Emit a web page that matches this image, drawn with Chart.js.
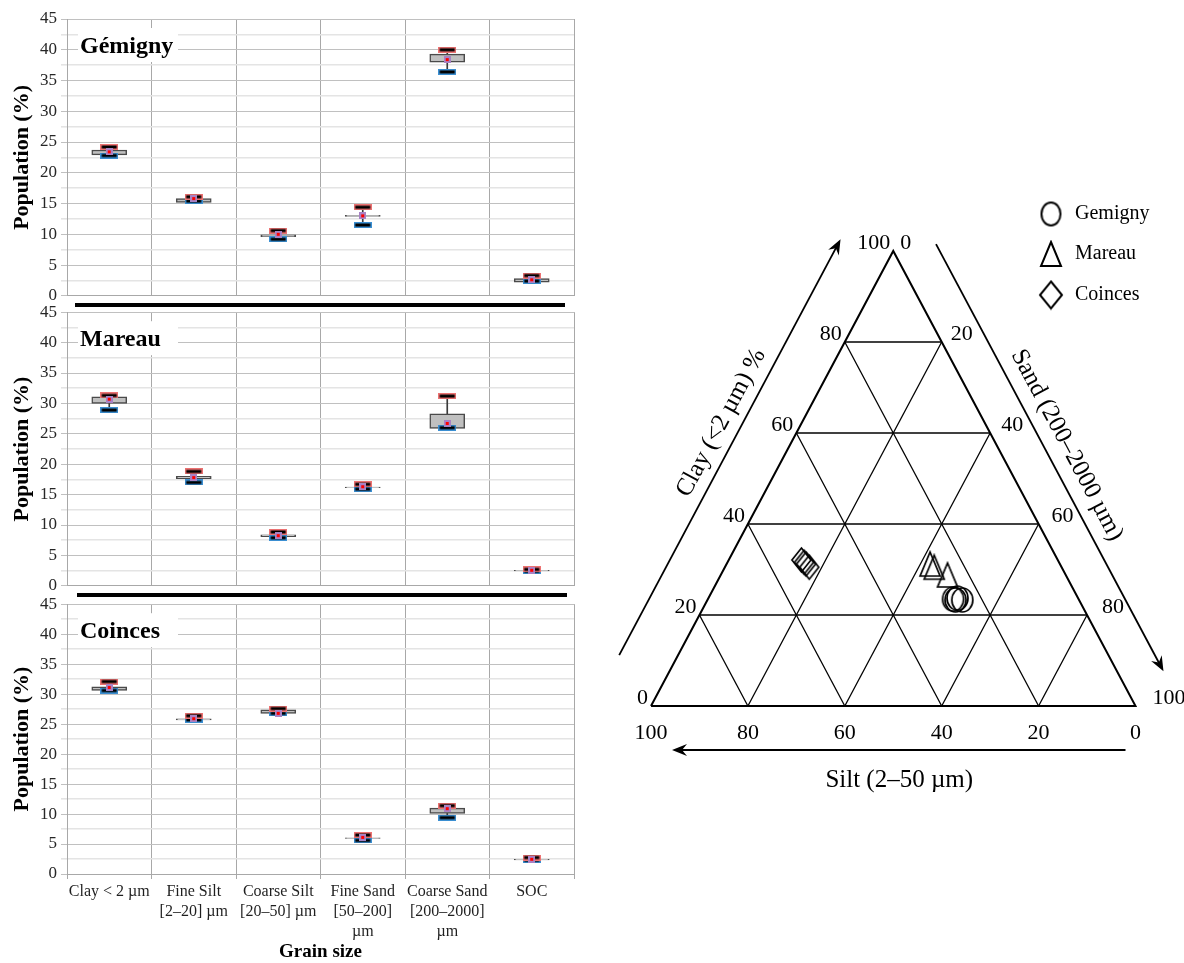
<!DOCTYPE html>
<html><head><meta charset="utf-8">
<script src="https://cdn.jsdelivr.net/npm/chart.js@4.4.0/dist/chart.umd.min.js"></script>
<style>
html,body{margin:0;padding:0;background:#fff;}
#wrap{position:relative;width:1184px;height:963px;overflow:hidden;background:#fff;}
canvas{position:absolute;}
.sep{position:absolute;height:4px;background:#000;z-index:5;}
</style></head><body>
<div id="wrap">
<canvas id="p1" style="left:0;top:0" width="590" height="310"></canvas>
<canvas id="p2" style="left:0;top:298px" width="590" height="302"></canvas>
<canvas id="p3" style="left:0;top:590px" width="590" height="373"></canvas>
<canvas id="tern" style="left:590px;top:0" width="594" height="963"></canvas>
<div class="sep" style="left:75px;top:303px;width:490px"></div>
<div class="sep" style="left:77px;top:593px;width:490px"></div>
</div>
<script>
// ---------- data ----------
const categories = [['Clay < 2 µm'], ['Fine Silt', '[2–20] µm'], ['Coarse Silt', '[20–50] µm'], ['Fine Sand', '[50–200]', 'µm'], ['Coarse Sand', '[200–2000]', 'µm'], ['SOC']];
const siteNames = ['Gémigny', 'Mareau', 'Coinces'];

const gemMin  = [22.8, 15.4, 9.2, 11.5, 36.4, 2.4];
const gemQ1   = [22.9, 15.2, 9.6, 12.9, 38.0, 2.2];
const gemQ3   = [23.7, 15.8, 9.9, 13.1, 39.3, 2.8];
const gemMax  = [24.2, 16.1, 10.6, 14.4, 40.0, 3.3];
const gemMean = [23.4, 15.8, 10.0, 13.0, 38.4, 2.6];

const marMin  = [28.9, 17.0, 7.9, 15.9, 26.0, 2.4];
const marQ1   = [30.0, 17.6, 8.1, 16.15, 25.9, 2.45];
const marQ3   = [31.1, 18.0, 8.4, 16.25, 28.3, 2.55];
const marMax  = [31.3, 18.8, 8.85, 16.7, 31.2, 2.7];
const marMean = [30.7, 17.8, 8.25, 16.3, 26.7, 2.55];

const coiMin  = [30.6, 25.7, 26.8, 5.6, 9.4, 2.3];
const coiQ1   = [30.6, 25.7, 26.8, 5.95, 10.1, 2.35];
const coiQ3   = [31.2, 25.9, 27.4, 6.05, 11.0, 2.45];
const coiMax  = [32.1, 26.4, 27.6, 6.5, 11.4, 2.75];
const coiMean = [31.1, 25.9, 26.8, 6.1, 10.9, 2.45];

// ternary samples (clay %, sand %; silt = 100 - clay - sand)
const ternTicks = [0, 20, 40, 60, 80, 100];
const ternGrid = [20, 40, 60, 80];
const gemClay = [23.5, 23.3, 23.7, 23.3];
const gemSand = [50.6, 51.2, 51.4, 52.6];
const marClay = [31.2, 30.5, 28.8];
const marSand = [42.0, 43.2, 46.8];
const coiClay = [32.1, 31.6, 31.2, 30.5];
const coiSand = [15.0, 15.8, 16.4, 17.4];

// ---------- helpers ----------
const SERIF = '"Liberation Serif", "Times New Roman", serif';
function capImg(color) {
  const c = document.createElement('canvas'); c.width = 18; c.height = 6;
  const g = c.getContext('2d');
  g.fillStyle = color; g.fillRect(0, 0, 18, 6);
  g.fillStyle = '#000'; g.fillRect(1.5, 1.5, 15, 3);
  return c;
}
function meanImg() {
  const c = document.createElement('canvas'); c.width = 7; c.height = 7;
  const g = c.getContext('2d');
  g.fillStyle = '#a882c4'; g.fillRect(0, 0, 7, 7);
  g.fillStyle = '#ff0000'; g.fillRect(2, 2, 3, 3);
  return c;
}
function markerImg(kind, w, h, lw) {
  const c = document.createElement('canvas'); c.width = Math.ceil(w + 4); c.height = Math.ceil(h + 4);
  const g = c.getContext('2d'); g.strokeStyle = '#000'; g.lineWidth = lw;
  const cx = c.width / 2, cy = c.height / 2;
  g.beginPath();
  if (kind === 'circle') g.ellipse(cx, cy, w / 2, h / 2, 0, 0, Math.PI * 2);
  else if (kind === 'triangle') { g.moveTo(cx, cy - h / 2); g.lineTo(cx + w / 2, cy + h / 2); g.lineTo(cx - w / 2, cy + h / 2); g.closePath(); }
  else { g.moveTo(cx, cy - h / 2); g.lineTo(cx + w / 2, cy); g.lineTo(cx, cy + h / 2); g.lineTo(cx - w / 2, cy); g.closePath(); }
  g.stroke();
  return c;
}
const capRed = capImg('#ec7272');
const capBlue = capImg('#3b8fd2');
const meanMark = meanImg();

const titlePlugin = {
  id: 'siteTitle',
  afterDraw(chart, args, opts) {
    const { ctx, chartArea } = chart;
    ctx.save();
    ctx.fillStyle = '#fff';
    ctx.fillRect(chartArea.left + 11, chartArea.top + 9, 100, 34);
    ctx.fillStyle = '#000';
    ctx.font = 'bold 24px ' + SERIF;
    ctx.textBaseline = 'alphabetic';
    ctx.textAlign = 'left';
    ctx.fillText(opts.text, chartArea.left + 13, chartArea.top + 34);
    ctx.restore();
  }
};

function makePanel(id, name, mn, q1, q3, mx, mean, showX, padTop, padBottom) {
  new Chart(document.getElementById(id), {
    type: 'bar',
    data: {
      labels: categories,
      datasets: [
        { type: 'line', data: mean, showLine: false, pointStyle: meanMark, pointRadius: 4, order: 1 },
        { type: 'line', data: mx, showLine: false, pointStyle: capRed, pointRadius: 4, order: 2 },
        { type: 'line', data: mn, showLine: false, pointStyle: capBlue, pointRadius: 4, order: 2 },
        { type: 'bar', data: q1.map((v, i) => [v, q3[i]]), backgroundColor: '#c0c0c0', borderColor: '#4a4a4a', borderWidth: 1.5, borderSkipped: false, barThickness: 35, grouped: false, order: 3 },
        { type: 'bar', data: mn.map((v, i) => [Math.min(v, q1[i]), mx[i]]), backgroundColor: '#3a3a3a', borderWidth: 0, barThickness: 1, grouped: false, order: 4 }
      ]
    },
    options: {
      responsive: false, animation: false, events: [],
      layout: { padding: { left: 0, right: 16, top: padTop, bottom: padBottom } },
      plugins: { legend: { display: false }, tooltip: { enabled: false }, siteTitle: { text: name } },
      scales: {
        x: {
          offset: true,
          grid: { offset: true, color: '#a8a8a8', drawTicks: showX, tickLength: 5 },
          border: { color: '#a8a8a8' },
          ticks: { display: showX, autoSkip: false, maxRotation: 0, padding: 3, color: '#1f1f1f', font: { family: SERIF, size: 16, lineHeight: 1.25 } },
          title: { display: showX, text: 'Grain size', color: '#000', padding: { top: 0, bottom: 0 }, font: { family: SERIF, size: 19, weight: 'bold', lineHeight: 1.2 } },
          afterFit: s => { s.height = showX ? 89 : 0; }
        },
        y: {
          min: 0, max: 45,
          ticks: { stepSize: 2.5, autoSkip: false, padding: 4, color: '#262626', font: { family: SERIF, size: 17 }, callback: v => (v % 5 === 0 ? String(v) : '') },
          grid: { tickLength: 6, color: c => (c.tick && c.tick.value % 5 === 0 ? '#c0c0c0' : '#e4e4e4'), lineWidth: c => (c.tick && c.tick.value % 5 === 0 ? 1 : 1.6) },
          border: { color: '#a8a8a8' },
          title: { display: true, text: 'Population (%)', color: '#000', padding: { top: 9, bottom: 0 }, font: { family: SERIF, size: 22, weight: 'bold', lineHeight: 1.2 } },
          afterFit: s => { s.width = 67; }
        }
      }
    },
    plugins: [titlePlugin]
  });
}

makePanel('p1', siteNames[0], gemMin, gemQ1, gemQ3, gemMax, gemMean, false, 19, 12);
makePanel('p2', siteNames[1], marMin, marQ1, marQ3, marMax, marMean, false, 13, 11);
makePanel('p3', siteNames[2], coiMin, coiQ1, coiQ3, coiMax, coiMean, true, 12, 0);

// ---------- ternary ----------
const T = (clay, sand) => ({ x: sand + clay / 2, y: clay });
const lineDatasets = [];
const seg = (a, b, w) => lineDatasets.push({ type: 'scatter', data: [a, b], showLine: true, borderColor: '#000', borderWidth: w, pointRadius: 0, clip: false });
ternGrid.forEach(v => {
  seg(T(v, 0), T(v, 100 - v), 1.3);            // clay = v
  seg(T(0, v), T(100 - v, v), 1.3);            // sand = v
  seg(T(0, 100 - v), T(100 - v, 0), 1.3);      // silt = v
});
lineDatasets.push({ type: 'scatter', data: [T(0, 0), T(0, 100), T(100, 0), T(0, 0)], showLine: true, borderColor: '#000', borderWidth: 2, pointRadius: 0, clip: false });

const mkCircle = markerImg('circle', 21, 24, 1.7);
const mkTri = markerImg('triangle', 20, 24, 1.7);
const mkDia = markerImg('diamond', 19, 24, 1.7);
const ptDatasets = [
  { data: gemClay.map((c, i) => T(c, gemSand[i])), pointStyle: mkCircle },
  { data: marClay.map((c, i) => T(c, marSand[i])), pointStyle: mkTri },
  { data: coiClay.map((c, i) => T(c, coiSand[i])), pointStyle: mkDia }
].map(d => Object.assign({ type: 'scatter', pointRadius: 5, showLine: false, clip: false }, d));

function arrow(ctx, x1, y1, x2, y2) {
  const a = Math.atan2(y2 - y1, x2 - x1);
  ctx.beginPath(); ctx.moveTo(x1, y1); ctx.lineTo(x2 - 8 * Math.cos(a), y2 - 8 * Math.sin(a)); ctx.stroke();
  ctx.save(); ctx.translate(x2, y2); ctx.rotate(a);
  ctx.beginPath(); ctx.moveTo(0, 0); ctx.lineTo(-15, -6); ctx.lineTo(-10, 0); ctx.lineTo(-15, 6); ctx.closePath(); ctx.fill();
  ctx.restore();
}

const ternPlugin = {
  id: 'ternDecor',
  afterDraw(chart) {
    const { ctx, scales: { x, y } } = chart;
    const P = (c, s) => ({ x: x.getPixelForValue(s + c / 2), y: y.getPixelForValue(c) });
    const BL = P(0, 0), BR = P(0, 100), AP = P(100, 0);
    ctx.save();
    ctx.fillStyle = '#000'; ctx.strokeStyle = '#000';
    ctx.font = '22px ' + SERIF;
    ctx.textBaseline = 'middle';
    ctx.textAlign = 'right';
    ternTicks.forEach(v => { const p = P(v, 0); ctx.fillText(String(v), p.x - 3, p.y - 8); });
    ctx.textAlign = 'left';
    ternTicks.forEach(v => { const p = P(100 - v, v); ctx.fillText(String(v), p.x + 7 + v * 0.1, p.y - 8); });
    ctx.textAlign = 'center';
    ternTicks.forEach(v => { const p = P(0, 100 - v); ctx.fillText(String(v), p.x, p.y + 27); });

    // left side (clay)
    let len = Math.hypot(AP.x - BL.x, AP.y - BL.y);
    const u = { x: (AP.x - BL.x) / len, y: (AP.y - BL.y) / len };
    const n = { x: u.y, y: -u.x };
    ctx.lineWidth = 1.8;
    const at = (o, a, b, s, k) => ({ x: o.x + a.x * s + b.x * k, y: o.y + a.y * s + b.y * k });
    let s1 = at(BL, u, n, 30, 52), s2 = at(BL, u, n, 501, 52);
    arrow(ctx, s1.x, s1.y, s2.x, s2.y);
    let c1 = at(BL, u, n, 283, 71);
    ctx.save(); ctx.translate(c1.x, c1.y); ctx.rotate(Math.atan2(u.y, u.x));
    ctx.font = '25px ' + SERIF; ctx.textAlign = 'center'; ctx.fillText('Clay (<2 µm) %', 0, 0); ctx.restore();

    // right side (sand)
    len = Math.hypot(BR.x - AP.x, BR.y - AP.y);
    const v = { x: (BR.x - AP.x) / len, y: (BR.y - AP.y) / len };
    const m = { x: v.y, y: -v.x };
    s1 = at(AP, v, m, 14, 41); s2 = at(AP, v, m, 498, 41);
    arrow(ctx, s1.x, s1.y, s2.x, s2.y);
    c1 = at(AP, v, m, 253, 62);
    ctx.save(); ctx.translate(c1.x, c1.y); ctx.rotate(Math.atan2(v.y, v.x));
    ctx.font = '25px ' + SERIF; ctx.textAlign = 'center'; ctx.fillText('Sand (200–2000 µm)', 0, 0); ctx.restore();

    // bottom (silt)
    arrow(ctx, BR.x - 10, BL.y + 44, BL.x + 21, BL.y + 44);
    ctx.font = '25px ' + SERIF; ctx.textAlign = 'center';
    ctx.fillText('Silt (2–50 µm)', (BL.x + BR.x) / 2 + 6, BL.y + 74);

    // legend
    const legItems = [[markerImg('circle', 19, 23, 2), 'Gemigny', 214], [markerImg('triangle', 20, 24, 2), 'Mareau', 254], [markerImg('diamond', 22, 27, 2), 'Coinces', 295]];
    ctx.font = '20px ' + SERIF; ctx.textAlign = 'left';
    legItems.forEach(([img, label, yy]) => {
      ctx.drawImage(img, 461 - img.width / 2, yy - img.height / 2);
      ctx.fillText(label, 485, yy);
    });
    ctx.restore();
  }
};

new Chart(document.getElementById('tern'), {
  type: 'scatter',
  data: { datasets: lineDatasets.concat(ptDatasets) },
  options: {
    responsive: false, animation: false, events: [],
    layout: { padding: { left: 61, right: 48.5, top: 251, bottom: 257 } },
    plugins: { legend: { display: false }, tooltip: { enabled: false } },
    scales: {
      x: { type: 'linear', min: 0, max: 100, display: false },
      y: { type: 'linear', min: 0, max: 100, display: false }
    }
  },
  plugins: [ternPlugin]
});
</script>
</body></html>
